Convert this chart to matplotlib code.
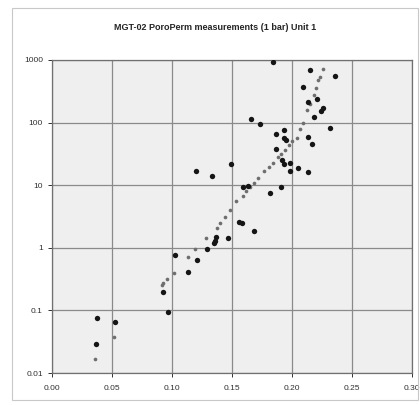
import matplotlib
matplotlib.use("Agg")
import matplotlib.pyplot as plt
from matplotlib.patches import Rectangle

title = "MGT-02 PoroPerm measurements (1 bar) Unit 1"

# measured samples (porosity fraction, permeability mD)
meas_phi = [0.0375, 0.0525, 0.0367, 0.0967, 0.0925, 0.113, 0.1025, 0.121, 0.129,
            0.136, 0.137, 0.135, 0.147, 0.158, 0.156, 0.168, 0.120, 0.133, 0.149,
            0.159, 0.163, 0.182, 0.191, 0.192, 0.193, 0.198, 0.198, 0.205, 0.213,
            0.187, 0.187, 0.193, 0.193, 0.195, 0.213, 0.217, 0.166, 0.173, 0.232,
            0.218, 0.224, 0.226, 0.221, 0.213, 0.209, 0.215, 0.236, 0.184]
meas_k = [0.076, 0.065, 0.029, 0.095, 0.20, 0.41, 0.78, 0.64, 0.96,
          1.3, 1.5, 1.2, 1.45, 2.5, 2.6, 1.86, 17, 14, 22,
          9.4, 9.8, 7.5, 9.2, 25, 22, 23, 17, 19, 16,
          38, 66, 76, 56, 52, 59, 46, 115, 96, 81,
          123, 155, 170, 240, 215, 370, 690, 560, 930]

# predicted permeability (gray points)
pred_phi = [0.036, 0.052, 0.092, 0.0925, 0.096, 0.1017, 0.113, 0.119, 0.128,
            0.1375, 0.140, 0.144, 0.148, 0.153, 0.159, 0.162, 0.165, 0.168,
            0.172, 0.177, 0.181, 0.184, 0.188, 0.191, 0.194, 0.1975, 0.200,
            0.204, 0.207, 0.209, 0.2125, 0.215, 0.218, 0.220, 0.222, 0.223, 0.226]
pred_k = [0.017, 0.038, 0.25, 0.27, 0.32, 0.40, 0.72, 0.96, 1.44,
          2.07, 2.5, 3.1, 4.0, 5.5, 6.8, 8.0, 9.3, 11,
          13, 17, 19.5, 23, 28, 32, 36, 44, 50,
          56, 80, 100, 160, 200, 280, 355, 480, 540, 730]

x_ticks = [0.00, 0.05, 0.10, 0.15, 0.20, 0.25, 0.30]
x_labels = ["0.00", "0.05", "0.10", "0.15", "0.20", "0.25", "0.30"]
y_ticks = [0.01, 0.1, 1, 10, 100, 1000]
y_labels = ["0.01", "0.1", "1", "10", "100", "1000"]

plt.rcParams['font.family'] = ['Liberation Sans', 'DejaVu Sans']
fig = plt.figure(figsize=(4.2, 4.05), dpi=100)
fig.patch.set_facecolor('white')
fig.add_artist(Rectangle((12/420, 1-400/405), 406/420, 392/405, transform=fig.transFigure,
                         fill=False, edgecolor='#c8c8c8', linewidth=0.8))

ax = fig.add_axes([52/420, 1-373/405, 360/420, 313/405])
ax.set_facecolor('#efefef')
ax.set_yscale('log')
ax.set_xlim(0, 0.30)
ax.set_ylim(0.01, 1000)
ax.set_xticks(x_ticks)
ax.set_xticklabels(x_labels)
ax.set_yticks(y_ticks)
ax.set_yticklabels(y_labels)
ax.minorticks_off()
ax.grid(True, color='#8a8a8a', linewidth=0.9)
ax.set_axisbelow(True)
for s in ax.spines.values():
    s.set_color('#707070')
    s.set_linewidth(0.9)
ax.tick_params(axis='both', labelsize=6, colors='#303030', length=3, width=0.7)
ax.tick_params(axis='x', pad=6)

ax.scatter(pred_phi, pred_k, s=7, color='#6e6e6e', zorder=3, linewidths=0)
ax.scatter(meas_phi, meas_k, s=15, color='#151515', zorder=4, linewidths=0)

fig.text(215/420, 1-27/405, title, ha='center', va='center', fontsize=6.5, fontweight='bold', color='#252525')

fig.savefig("out.png", dpi=100)
